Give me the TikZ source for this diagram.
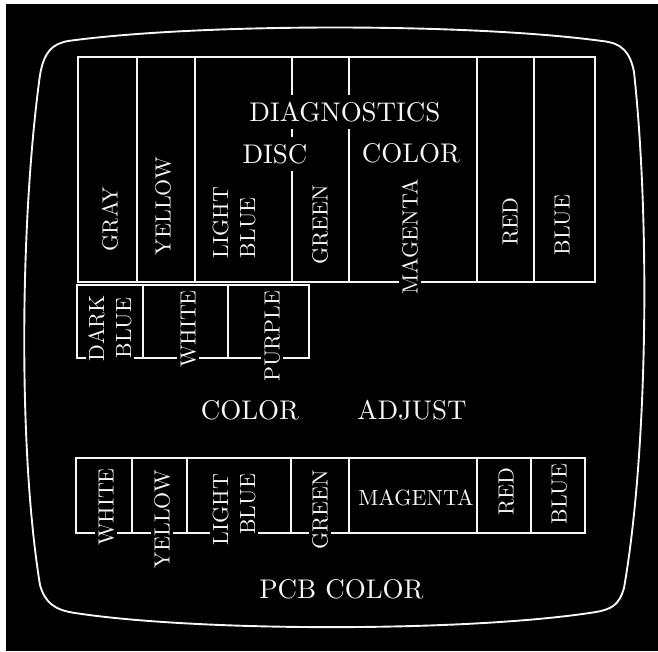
\documentclass[tikz,border=0pt]{standalone}
\usepackage{tikz}
\definecolor{scrW}{RGB}{246,246,246}
\definecolor{scrK}{RGB}{0,0,0}
\font\scrhdfont=cmr10 at 27pt
\font\scrlbfont=cmr10 at 22pt
\newcommand\scrlbsize{\scrlbfont\baselineskip=27pt\relax}
\tikzset{
  cell/.style={draw=scrW, line width=1.3pt},
  head/.style={text=scrW, fill=scrK, inner xsep=3pt, inner ysep=8pt,
    font=\scrhdfont},
  vlbl/.style={text=scrW, fill=scrK, inner sep=3pt, rotate=90,
    font=\scrlbsize},
  hlbl/.style={text=scrW, inner sep=0pt, font=\scrlbfont}
}

\begin{document}
\begin{tikzpicture}[x=1pt, y=-1pt]
\useasboundingbox (0,0) rectangle (658,651);
\fill[white] (0,0) rectangle (658,651);
\fill[scrK] (6,4) rectangle (658,651);
% the screen: a rounded, bulging outline
\draw[scrW, line width=1.9pt] (68,41) .. controls (200,23) and (470,23) .. (602,41)
  .. controls (622,43) and (630,52) .. (634,72)
  .. controls (650,220) and (648,450) .. (624,588)
  .. controls (619,605) and (612,609) .. (596,612)
  .. controls (470,632) and (200,632) .. (75,613)
  .. controls (55,610) and (45,603) .. (40,585)
  .. controls (18,450) and (20,220) .. (40,75)
  .. controls (44,52) and (52,44) .. cycle;
% diagnostics disc colour cells
\draw[cell] (78,57) rectangle (595,282);
\foreach \x in {137,195,292,349,477,534} \draw[cell] (\x,57) -- (\x,282);
% colour adjust cells
\draw[cell] (77,285) rectangle (309,358);
\foreach \x in {143,228} \draw[cell] (\x,285) -- (\x,358);
% pcb colour cells
\draw[cell] (76,458) rectangle (585,533);
\foreach \x in {132,187,291,349,477,531} \draw[cell] (\x,458) -- (\x,533);
% headings
\node[head] (diag) at (345,112) {DIAGNOSTICS};
\node[head] (disc) at (275,154) {DISC};
\node[head] (dcol) at (411,153) {COLOR};
\node[head] (acol) at (250,410) {COLOR};
\node[head] (adj) at (412,410) {ADJUST};
\node[head] (pcb) at (341.5,589) {PCB COLOR};
% disc row
\node[vlbl] (dGray) at (110,219) {GRAY};
\node[vlbl] (dYel) at (163,206) {YELLOW};
\node[vlbl, align=left] (dLtb) at (234,222.5) {LIGHT\\BLUE};
\node[vlbl] (dGrn) at (320,225) {GREEN};
\node[vlbl] (dMag) at (410,237) {MAGENTA};
\node[vlbl] (dRed) at (510,222) {RED};
\node[vlbl] (dBlu) at (562,225) {BLUE};
% adjust row
\node[vlbl, align=center] (aDkb) at (110,328) {DARK\\BLUE};
\node[vlbl] (aWht) at (188,329) {WHITE};
\node[vlbl] (aPur) at (272,336) {PURPLE};
% pcb row
\node[vlbl] (pWht) at (106,507) {WHITE};
\node[vlbl] (pYel) at (162,519) {YELLOW};
\node[vlbl, align=right] (pLtb) at (234,509.5) {LIGHT\\BLUE};
\node[vlbl] (pGrn) at (320,510) {GREEN};
\node[hlbl] (pMag) at (416,498) {MAGENTA};
\node[vlbl] (pRed) at (506,492) {RED};
\node[vlbl] (pBlu) at (559,494) {BLUE};
\end{tikzpicture}
\end{document}
